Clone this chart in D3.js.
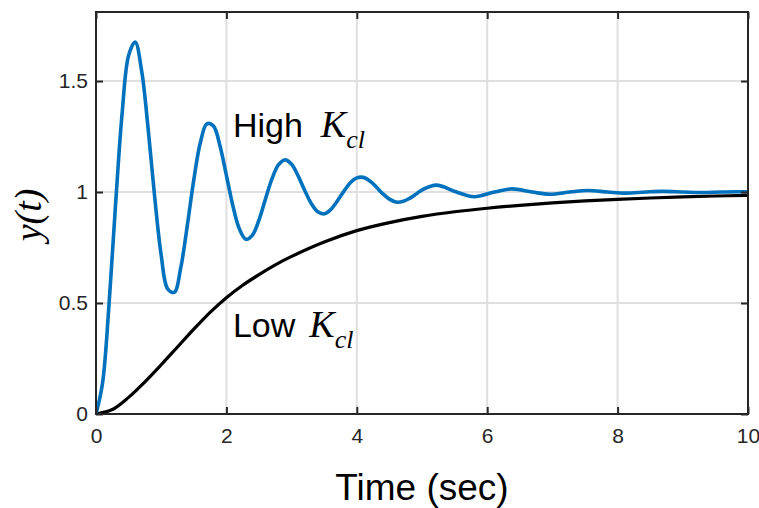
<!DOCTYPE html>
<html>

<head>
    <style>
        body {
            margin: 0;
            background: #fff;
        }

        .tick text {
            font-family: "Liberation Sans", Arial, sans-serif;
            font-size: 21px;
            fill: #262626;
        }
    </style>
    <script src="https://cdn.jsdelivr.net/npm/d3@7"></script>
</head>

<body>
    <script>
        // time axis samples (sec) and responses
        const highT = [0, 0.1, 0.2, 0.3, 0.4, 0.5, 0.6, 0.7, 0.8, 0.9,
            1.0, 1.1, 1.2, 1.3, 1.4, 1.5, 1.6, 1.7, 1.8, 1.9,
            2.0, 2.1, 2.2, 2.3, 2.4, 2.5, 2.6, 2.7, 2.8, 2.9,
            3.0, 3.1, 3.2, 3.3, 3.4, 3.5, 3.6, 3.7, 3.8, 3.9,
            4.0, 4.1, 4.2, 4.3, 4.4, 4.5, 4.6, 4.7, 4.8, 4.9,
            5.0, 5.22, 5.53, 5.80, 6.11, 6.38, 6.69, 6.96, 7.27, 7.54,
            7.85, 8.12, 8.43, 8.70, 9.01, 9.28, 9.59, 9.86, 10.0];
        const highY = [0, 0.139, 0.495, 0.944, 1.352, 1.615, 1.676, 1.546, 1.284, 0.978,
            0.715, 0.563, 0.548, 0.659, 0.848, 1.055, 1.222, 1.307, 1.298, 1.210,
            1.075, 0.937, 0.833, 0.787, 0.806, 0.874, 0.969, 1.060, 1.123, 1.145,
            1.125, 1.073, 1.008, 0.949, 0.911, 0.902, 0.921, 0.959, 1.003, 1.042,
            1.064, 1.066, 1.050, 1.022, 0.992, 0.968, 0.955, 0.957, 0.970, 0.989,
            1.009, 1.031, 1.0, 0.979, 1.0, 1.014, 1.0, 0.990, 1.0, 1.007,
            1.0, 0.995, 1.0, 1.003, 1.0, 0.998, 1.0, 1.001, 1.001];

        const lowT = [0, 0.25, 0.5, 0.75, 1.0, 1.25, 1.5, 1.75, 2.0, 2.25,
            2.5, 2.75, 3.0, 3.5, 4.0, 4.5, 5.0, 5.5, 6.0, 6.5,
            7.0, 7.5, 8.0, 8.5, 9.0, 9.5, 10.0];
        const lowY = [0, 0.02, 0.075, 0.145, 0.222, 0.302, 0.382, 0.458, 0.524, 0.58,
            0.628, 0.672, 0.71, 0.775, 0.826, 0.862, 0.89, 0.911, 0.927, 0.94,
            0.951, 0.96, 0.967, 0.973, 0.978, 0.982, 0.985];

        const xTicks = [0, 2, 4, 6, 8, 10];
        const yTicks = [0, 0.5, 1, 1.5];
        const yTickLabels = ["0", "0.5", "1", "1.5"];

        const w = 759;
        const h = 508;
        const m = { left: 96, right: 748, top: 12, bottom: 414 };

        const xScale = d3.scaleLinear().domain([0, 10]).range([m.left, m.right]);
        const yScale = d3.scaleLinear().domain([0, 1.811]).range([m.bottom, m.top]);

        const svg = d3.select("body")
            .append("svg")
            .attr("width", w)
            .attr("height", h);

        // grid
        svg.append("g")
            .selectAll("line")
            .data(xTicks.slice(1, -1))
            .enter()
            .append("line")
            .attr("x1", (d) => xScale(d)).attr("x2", (d) => xScale(d))
            .attr("y1", m.top).attr("y2", m.bottom)
            .attr("stroke", "#dfdfdf").attr("stroke-width", 2);

        svg.append("g")
            .selectAll("line")
            .data(yTicks.slice(1))
            .enter()
            .append("line")
            .attr("x1", m.left).attr("x2", m.right)
            .attr("y1", (d) => yScale(d)).attr("y2", (d) => yScale(d))
            .attr("stroke", "#dfdfdf").attr("stroke-width", 2);

        svg.append("clipPath").attr("id", "clip")
            .append("rect")
            .attr("x", m.left).attr("y", m.top)
            .attr("width", m.right - m.left).attr("height", m.bottom - m.top);

        const line = d3.line()
            .x((d) => xScale(d[0]))
            .y((d) => yScale(d[1]))
            .curve(d3.curveCatmullRom);

        svg.append("path")
            .datum(lowT.map((t, i) => [t, lowY[i]]))
            .attr("d", line)
            .attr("fill", "none")
            .attr("stroke", "#000")
            .attr("stroke-width", 3.2)
            .attr("clip-path", "url(#clip)");

        svg.append("path")
            .datum(highT.map((t, i) => [t, highY[i]]))
            .attr("d", line)
            .attr("fill", "none")
            .attr("stroke", "#0072BD")
            .attr("stroke-width", 3.6)
            .attr("stroke-linejoin", "round")
            .attr("clip-path", "url(#clip)");

        // axes with inward ticks on all four sides
        const styleAxis = (g) => {
            g.select(".domain").remove();
            g.selectAll(".tick line").attr("stroke", "#262626").attr("stroke-width", 2);
        };

        svg.append("g")
            .attr("transform", "translate(0," + m.bottom + ")")
            .call(d3.axisBottom(xScale).tickValues(xTicks).tickSize(-7).tickPadding(14).tickFormat(d3.format("d")))
            .call(styleAxis);

        svg.append("g")
            .attr("transform", "translate(0," + m.top + ")")
            .call(d3.axisTop(xScale).tickValues(xTicks).tickSize(-7).tickFormat(""))
            .call(styleAxis);

        svg.append("g")
            .attr("transform", "translate(" + m.left + ",0)")
            .call(d3.axisLeft(yScale).tickValues(yTicks).tickSize(-7).tickPadding(8)
                .tickFormat((d, i) => yTickLabels[i]))
            .call(styleAxis);

        svg.append("g")
            .attr("transform", "translate(" + m.right + ",0)")
            .call(d3.axisRight(yScale).tickValues(yTicks).tickSize(-7).tickFormat(""))
            .call(styleAxis);

        svg.append("rect")
            .attr("x", m.left).attr("y", m.top)
            .attr("width", m.right - m.left).attr("height", m.bottom - m.top)
            .attr("fill", "none")
            .attr("stroke", "#262626")
            .attr("stroke-width", 2);

        // labels
        svg.append("text")
            .attr("x", (m.left + m.right) / 2)
            .attr("y", 500)
            .attr("text-anchor", "middle")
            .style("font-family", "Liberation Sans, Arial, sans-serif")
            .style("font-size", "37px")
            .attr("fill", "#000")
            .text("Time (sec)");

        svg.append("text")
            .attr("transform", "translate(41," + 215 + ") rotate(-90)")
            .attr("text-anchor", "middle")
            .style("font-family", "Liberation Serif, Times New Roman, serif")
            .style("font-style", "italic")
            .style("font-size", "38px")
            .attr("fill", "#000")
            .text("y(t)");

        const annotate = (label, tx, ty, gap) => {
            const t = svg.append("text")
                .attr("x", xScale(tx))
                .attr("y", yScale(ty))
                .attr("fill", "#000");
            t.append("tspan")
                .style("font-family", "Liberation Sans, Arial, sans-serif")
                .style("font-size", "34px")
                .text(label);
            t.append("tspan")
                .attr("dx", gap)
                .style("font-family", "Liberation Serif, Times New Roman, serif")
                .style("font-style", "italic")
                .style("font-size", "38px")
                .text("K");
            t.append("tspan")
                .attr("dy", 11)
                .style("font-family", "Liberation Serif, Times New Roman, serif")
                .style("font-style", "italic")
                .style("font-size", "26px")
                .text("cl");
        };

        annotate("High", 2.1, 1.25, 18);
        annotate("Low", 2.1, 0.345, 14);
    </script>
</body>

</html>
